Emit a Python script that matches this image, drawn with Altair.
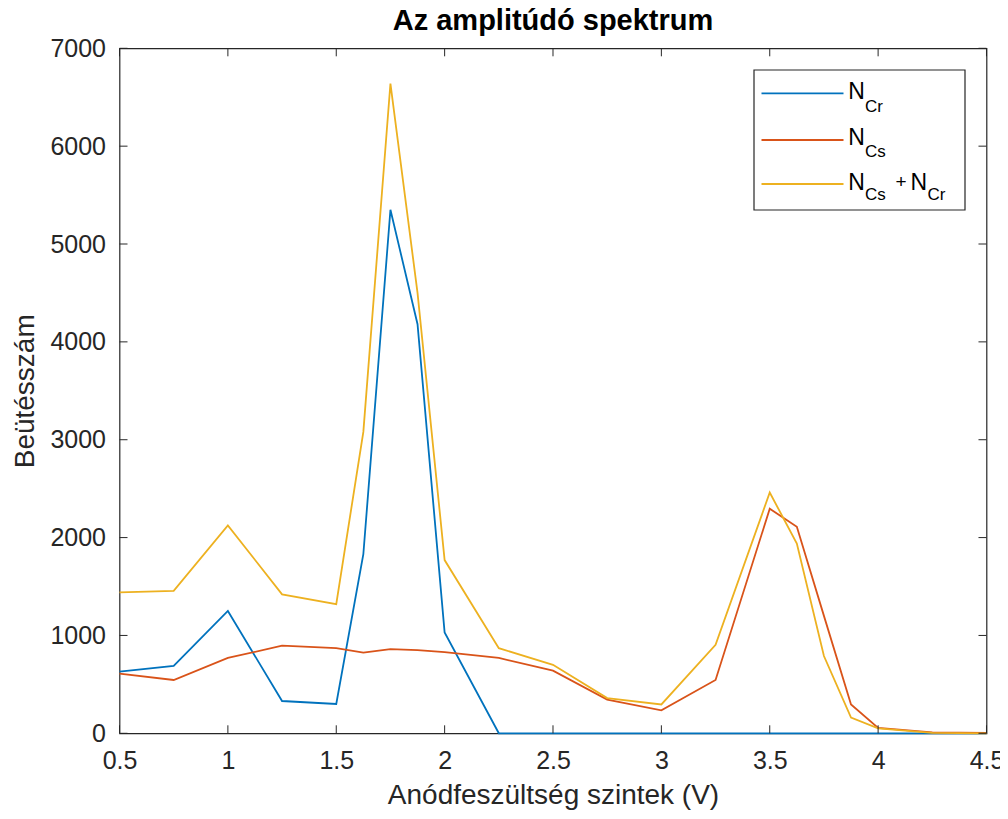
import altair as alt
import pandas as pd

# ---- data ----
x_vals = [0.5, 0.75, 1.0, 1.25, 1.5, 1.625, 1.75, 1.875, 2.0, 2.25, 2.5, 2.75,
          3.0, 3.25, 3.5, 3.625, 3.75, 3.875, 4.0, 4.25, 4.5]
n_cr = [630, 690, 1250, 330, 300, 1830, 5350, 4180, 1030, 0, 0, 0,
        0, 0, 0, 0, 0, 0, 0, 0, 0]
n_cs = [610, 545, 770, 895, 870, 825, 860, 850, 830, 770, 640, 345,
        235, 545, 2295, 2110, 1200, 295, 55, 10, 5]
n_sum = [1440, 1455, 2125, 1420, 1320, 3080, 6640, 4500, 1770, 870, 700, 360,
         295, 905, 2460, 1940, 790, 160, 50, 5, 0]
series_names = ["N_Cr", "N_Cs", "N_Cs + N_Cr"]
colors = ["#0072BD", "#D95319", "#EDB120"]
x_ticks = [0.5, 1, 1.5, 2, 2.5, 3, 3.5, 4, 4.5]
y_ticks = [0, 1000, 2000, 3000, 4000, 5000, 6000, 7000]

W, H = 867, 685
FONT = "Liberation Sans"
AX = "#262626"
TL = 8

rows = []
for name, vals in zip(series_names, [n_cr, n_cs, n_sum]):
    for xv, yv in zip(x_vals, vals):
        rows.append({"x": xv, "y": yv, "series": name})
df = pd.DataFrame(rows)

xscale = alt.Scale(domain=[0.5, 4.5], nice=False, zero=False)
yscale = alt.Scale(domain=[0, 7000], nice=False)

xaxis = alt.Axis(values=x_ticks, format="~g", title="Anódfeszültség szintek (V)",
                 ticks=False, domain=False, grid=False, labelPadding=15,
                 labelFontSize=25, titleFontSize=28, titlePadding=8,
                 labelColor=AX, titleColor=AX, labelFont=FONT, titleFont=FONT,
                 titleFontWeight="normal", labelFlush=False)
yaxis = alt.Axis(values=y_ticks, format="d", title="Beütésszám",
                 ticks=False, domain=False, grid=False, labelPadding=14,
                 labelFontSize=25, titleFontSize=28, titlePadding=10,
                 labelColor=AX, titleColor=AX, labelFont=FONT, titleFont=FONT,
                 titleFontWeight="normal", labelFlush=False)

lines = alt.Chart(df).mark_line(strokeWidth=1.8).encode(
    x=alt.X("x:Q", scale=xscale, axis=xaxis),
    y=alt.Y("y:Q", scale=yscale, axis=yaxis),
    color=alt.Color("series:N", scale=alt.Scale(domain=series_names, range=colors), legend=None),
    detail="series:N",
)

xt = pd.DataFrame({"t": x_ticks})
yt = pd.DataFrame({"t": y_ticks})
tick_layers = [
    alt.Chart(xt).mark_rule(color=AX, strokeWidth=1).encode(
        x=alt.X("t:Q", scale=xscale, axis=xaxis), y=alt.value(H), y2=alt.value(H - TL)),
    alt.Chart(xt).mark_rule(color=AX, strokeWidth=1).encode(
        x=alt.X("t:Q", scale=xscale, axis=xaxis), y=alt.value(0), y2=alt.value(TL)),
    alt.Chart(yt).mark_rule(color=AX, strokeWidth=1).encode(
        y=alt.Y("t:Q", scale=yscale, axis=yaxis), x=alt.value(0), x2=alt.value(TL)),
    alt.Chart(yt).mark_rule(color=AX, strokeWidth=1).encode(
        y=alt.Y("t:Q", scale=yscale, axis=yaxis), x=alt.value(W), x2=alt.value(W - TL)),
]

one = alt.Data(values=[{"a": 1}])
legend_box = alt.Chart(one).mark_rect(fill="white", stroke=AX, strokeWidth=1.2).encode(
    x=alt.value(634.5), x2=alt.value(845.5), y=alt.value(21.7), y2=alt.value(161.7))

legend_layers = [legend_box]
line_ys = [45, 91.7, 135.7]
for c, ly in zip(colors, line_ys):
    legend_layers.append(alt.Chart(one).mark_rule(color=c, strokeWidth=1.8).encode(
        x=alt.value(642), x2=alt.value(724), y=alt.value(ly)))


def txt(s, x, y, size):
    return alt.Chart(one).mark_text(align="left", baseline="alphabetic", font=FONT,
                                    fontSize=size, color="black").encode(
        x=alt.value(x), y=alt.value(y), text=alt.value(s))


NS, SS = 23, 17
legend_layers += [
    txt("N", 728.8, 51, NS), txt("Cr", 745.5, 63.4, SS),
    txt("N", 728.8, 96.7, NS), txt("Cs", 745.5, 108.4, SS),
    txt("N", 728.8, 141.7, NS), txt("Cs", 745.5, 151.7, SS),
    txt("+", 776, 139.5, 19), txt("N", 791, 141.7, NS), txt("Cr", 808, 151.7, SS),
]

chart = alt.layer(lines, *tick_layers, *legend_layers).properties(
    width=W, height=H,
    title=alt.TitleParams("Az amplitúdó spektrum", fontSize=29, font=FONT,
                          fontWeight="bold", color="black", offset=0, anchor="middle",
                          frame="group"),
    autosize=alt.AutoSizeParams(type="none"),
    padding={"left": 111.5, "top": 40.3, "right": 13, "bottom": 77.5},
).configure(background="white").configure_view(stroke=AX, strokeWidth=1.2)

chart.save("out.html", embed_options={"renderer": "svg", "actions": False})
